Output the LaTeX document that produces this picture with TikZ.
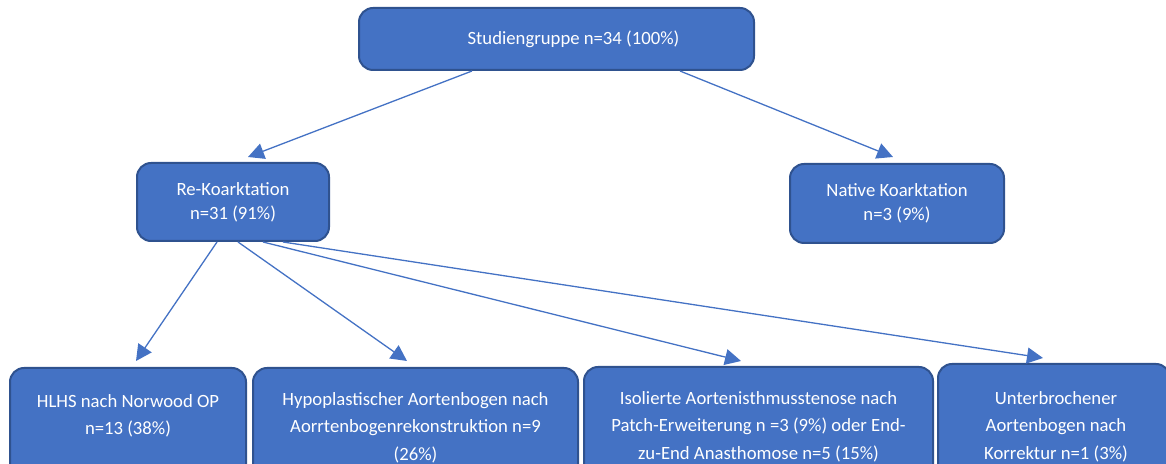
\documentclass[tikz,border=0pt]{standalone}
\usepackage{fontspec}
\setmainfont{Carlito}
\usetikzlibrary{arrows.meta,calc}
\definecolor{boxfill}{HTML}{4472C4}
\definecolor{boxline}{HTML}{2F528F}
\begin{document}
\begin{tikzpicture}[x=0.5pt,y=-0.5pt,
  box/.style={draw=boxline, line width=1pt, fill=boxfill, rounded corners=7pt,
    text=white, inner sep=0pt, align=center,
    font=\fontsize{9.35}{12}\selectfont},
  btxt/.style={text=white, inner sep=0pt, align=center,
    font=\fontsize{9.35}{13.75}\selectfont},
  arr/.style={draw=boxfill, line width=0.65pt, -{Triangle[length=8pt,width=8pt]}}]
\useasboundingbox (0,0) rectangle (1166,464);
\clip (0,0) rectangle (1166,464);
% top
\node[box, minimum width=197.5pt, minimum height=31pt] (top) at (556.5,39) {\hspace*{17pt}Studiengruppe n=34 (100\%)};
% middle
\node[box, minimum width=96pt, minimum height=39pt] (re) at (233,202) {Re-Koarktation\\n=31 (91\%)};
\node[box, minimum width=107pt, minimum height=39.5pt] (nat) at (897,203.5) {Native Koarktation\\n=3 (9\%)};
% bottom boxes
\node[box, minimum width=118pt, minimum height=65pt, anchor=north] (hlhs) at (128,367) {};
\node[box, minimum width=162.5pt, minimum height=65pt, anchor=north] (hypo) at (415.5,367) {};
\node[box, minimum width=174.5pt, minimum height=65pt, anchor=north] (iso) at (758.5,366) {};
\node[box, minimum width=116pt, minimum height=65pt, anchor=north] (unt) at (1054,363) {};
% bottom texts
\node[btxt, anchor=north] (hlhs-t) at ($(hlhs.north)+(0,27)$) {HLHS nach Norwood OP\\n=13 (38\%)};
\node[btxt, anchor=north] (hypo-t) at ($(hypo.north)+(0,25)$) {Hypoplastischer Aortenbogen nach\\Aorrtenbogenrekonstruktion n=9\\(26\%)};
\node[btxt, anchor=north] (iso-t) at ($(iso.north)+(0,25)$) {Isolierte Aortenisthmusstenose nach\\Patch-Erweiterung n =3 (9\%) oder End-\\zu-End Anasthomose n=5 (15\%)};
\node[btxt, anchor=north] (unt-t) at ($(unt.north)+(2,28)$) {Unterbrochener\\Aortenbogen nach\\Korrektur n=1 (3\%)};
% connectors
\draw[arr] ($(top.south)+(-84.5,0)$) -- ($(re.north)+(15,-5)$);
\draw[arr] ($(top.south)+(123.5,0)$) -- ($(nat.north)+(-4,-6)$);
\draw[arr] ($(re.south)+(-16,0)$) -- ($(hlhs.north)+(8,-6)$);
\draw[arr] ($(re.south)+(5,0)$) -- ($(hypo.north)+(-8.5,-6)$);
\draw[arr] ($(re.south)+(30,0)$) -- ($(iso.north)+(-17.5,-5)$);
\draw[arr] ($(re.south)+(50,0)$) -- ($(unt.north)+(-11,-5)$);
\end{tikzpicture}
\end{document}
